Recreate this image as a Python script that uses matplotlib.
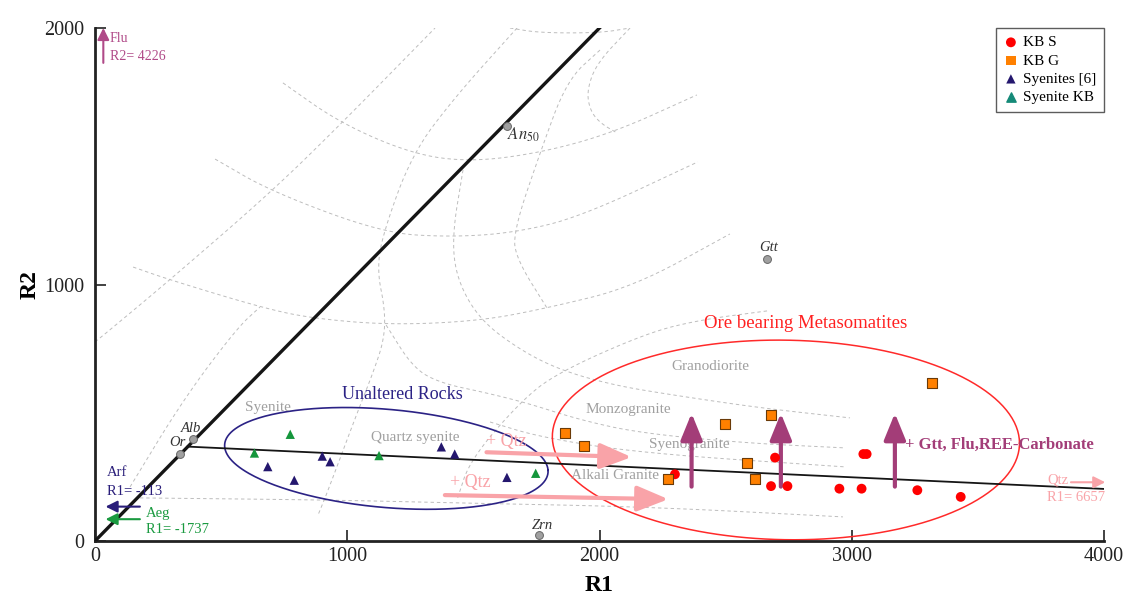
import numpy as np
import matplotlib.pyplot as plt

plt.rcParams['font.family'] = ['Liberation Serif', 'DejaVu Serif']
plt.rcParams['mathtext.fontset'] = 'stix'

# samples (R1, R2)
kbs_r1 = [2299, 2696, 2680, 2745, 2951, 3039, 3046, 3059, 3260, 3432]
kbs_r2 = [260, 325, 214, 214, 204, 204, 339, 339, 198, 172]
kbg_r1 = [1862, 1940, 2273, 2496, 2583, 2616, 2680, 3317]
kbg_r2 = [420, 372, 242, 457, 305, 242, 491, 615]
syen6_r1 = [685, 790, 901, 932, 1373, 1426, 1633]
syen6_r2 = [290, 237, 331, 309, 367, 339, 248]
syenkb_r1 = [632, 774, 1126, 1747]
syenkb_r2 = [343, 416, 333, 264]

# mineral end members
min_names = ['Or', 'Alb', 'An50', 'Gtt', 'Zrn']
min_r1 = [337, 388, 1633, 2664, 1760]
min_r2 = [339, 398, 1618, 1100, 23]

# De la Roche grid (grey dashed)
gA = [(0, 776), (59, 823), (297, 1018), (700, 1362), (978, 1629), (1348, 2000)]
gB = [(745, 1786), (971, 1630), (1257, 1509), (1487, 1478), (1764, 1513), (2053, 1591), (2386, 1739)]
gC = [(476, 1489), (702, 1361), (1142, 1201), (1407, 1185), (1657, 1201), (1923, 1263), (2390, 1478)]
gD = [(151, 1068), (297, 1018), (654, 912), (852, 869), (1169, 842), (1526, 858), (1792, 908), (2133, 990), (2517, 1197)]
gF = [(2664, 897), (2398, 862), (2188, 811), (1831, 655), (1685, 542), (1487, 316), (1435, 160)]
gG = [(1673, 2000), (1427, 1731), (1257, 1509), (1142, 1201), (1118, 1057), (1150, 901), (1146, 784), (1102, 655), (1039, 499), (920, 187), (884, 101)]
gH1 = [(1459, 1447), (1415, 1185), (1435, 1018), (1526, 862), (1685, 745), (1843, 667), (2053, 608), (2291, 569), (2636, 519), (2993, 480)]
gH2 = [(1154, 842), (1261, 675), (1368, 616), (1554, 577), (1712, 538), (1923, 472), (2160, 421), (2577, 382), (2973, 363)]
gH3 = [(1566, 464), (1764, 405), (2160, 343), (2973, 289)]
gH4 = [(178, 168), (932, 160), (1459, 148), (2200, 133), (2965, 94)]
gI = [(139, 211), (349, 550), (563, 830), (654, 912)]
gK = [(1645, 2000), (1764, 1981), (2002, 1981), (2121, 2000)]
gL = [(2121, 2000), (1990, 1864), (1950, 1758), (1962, 1680), (2002, 1630), (2069, 1591)]
gM = [(2002, 1914), (1871, 1797), (1764, 1513), (1657, 1201), (1673, 1096), (1792, 908)]
grid_lines = [gA, gB, gC, gD, gF, gG, gH1, gH2, gH3, gH4, gI, gK, gL, gM]

rock_names = ['Syenite', 'Quartz syenite', 'Granodiorite', 'Monzogranite', 'Syenogranite', 'Alkali Granite']
rock_r1 = [684, 1269, 2438, 2114, 2356, 2061]
rock_r2 = [519, 404, 680, 511, 377, 257]


def smooth(pts, n=3):
    p = np.array(pts, dtype=float)
    for _ in range(n):
        q = 0.75 * p[:-1] + 0.25 * p[1:]
        r = 0.25 * p[:-1] + 0.75 * p[1:]
        new = np.empty((2 * len(q), 2))
        new[0::2] = q
        new[1::2] = r
        p = np.vstack([p[:1], new, p[-1:]])
    return p


def ellipse(c, u, v):
    t = np.linspace(0, 2 * np.pi, 300)
    x = c[0] + u[0] * np.cos(t) + v[0] * np.sin(t)
    y = c[1] + u[1] * np.cos(t) + v[1] * np.sin(t)
    return x, y


def arrow(p0, p1, color, lw, hl, hw, ms):
    ax.annotate('', xy=p1, xytext=p0, annotation_clip=False,
                arrowprops=dict(arrowstyle='-|>,head_length=%s,head_width=%s' % (hl, hw),
                                lw=lw, color=color, mutation_scale=ms, shrinkA=0, shrinkB=0))


fig = plt.figure(figsize=(11.31, 5.97), dpi=100)
ax = fig.add_axes([95 / 1131, 56 / 597, 1009 / 1131, 513 / 597])

for g in grid_lines:
    s = smooth(g)
    ax.plot(s[:, 0], s[:, 1], ls=(0, (3.5, 3)), color='#bdbdbd', lw=0.7, zorder=1)

# 1:1 line and trend towards Qtz
ax.plot([0, 2000], [0, 2000], color='#151515', lw=2.4, zorder=3)
ax.plot([367, 4000], [368, 203], color='#151515', lw=1.3, zorder=3)

# ellipses
ex, ey = ellipse((1155, 322), (641, -46), (-14, 193))
ax.plot(ex, ey, color='#2b2285', lw=1.2, zorder=2)
ex, ey = ellipse((2739, 394), (926, -13), (0, 389))
ax.plot(ex, ey, color='#ff2a2a', lw=1.1, zorder=2)

for name, x, y in zip(rock_names, rock_r1, rock_r2):
    ax.text(x, y, name, color='#a0a0a0', fontsize=11, ha='center', va='center', zorder=2)

ax.text(1218, 573, 'Unaltered Rocks', color='#2b2285', fontsize=13, ha='center', va='center')
ax.text(2817, 849, 'Ore bearing Metasomatites', color='#ff2020', fontsize=13.5, ha='center', va='center')

# arrows
pink = '#f9a3a8'
purple = '#a33d78'
arrow((1552, 346), (2127, 327), pink, 3, 1.6, 0.65, 12)
arrow((1387, 179), (2273, 163), pink, 3, 1.6, 0.65, 12)
ax.text(1552, 387, '+ Qtz', color=pink, fontsize=13, ha='left', va='center')
ax.text(1407, 229, '+ Qtz', color=pink, fontsize=13, ha='left', va='center')

for x in [2365, 2719, 3171]:
    arrow((x, 212), (x, 498), purple, 3, 1.35, 0.55, 12)
ax.text(3211, 374, '+ Gtt, Flu,REE-Carbonate', color=purple, fontsize=12, fontweight='bold', ha='left', va='center')

# off-scale end members
arrow((33, 1864), (33, 2000), '#b04a88', 1.5, 0.7, 0.35, 10)
ax.text(59, 1961, 'Flu', color='#b04a88', fontsize=10, va='center')
ax.text(59, 1887, 'R2= 4226', color='#b04a88', fontsize=10, va='center')
arrow((178, 134), (42, 134), '#2a1e7a', 1.5, 0.7, 0.35, 10)
ax.text(46, 266, 'Arf', color='#2a1e7a', fontsize=10.5, va='center')
ax.text(46, 194, 'R1= -113', color='#2a1e7a', fontsize=10.5, va='center')
arrow((178, 85), (42, 85), '#1a9a40', 1.5, 0.7, 0.35, 10)
ax.text(202, 108, 'Aeg', color='#1a9a40', fontsize=10.5, va='center')
ax.text(202, 43, 'R1= -1737', color='#1a9a40', fontsize=10.5, va='center')
arrow((3869, 229), (4005, 229), pink, 1.5, 0.7, 0.35, 10)
ax.text(3775, 238, 'Qtz', color=pink, fontsize=10.5, va='center')
ax.text(3775, 168, 'R1= 6657', color=pink, fontsize=10.5, va='center')

# end members
ax.scatter(min_r1, min_r2, s=32, color='#a0a0a0', edgecolor='#666666', lw=0.7, zorder=5)
ax.text(325, 383, 'Or', style='italic', fontsize=10.5, color='#333333', ha='center', va='center')
ax.text(382, 437, 'Alb', style='italic', fontsize=10.5, color='#333333', ha='center', va='center')
ax.text(1633, 1583, r'$\mathit{An}_{50}$', fontsize=12, color='#333333', ha='left', va='center')
ax.text(2672, 1146, 'Gtt', style='italic', fontsize=10.5, color='#333333', ha='center', va='center')
ax.text(1772, 62, 'Zrn', style='italic', fontsize=10.5, color='#333333', ha='center', va='center')

# samples
ax.scatter(kbs_r1, kbs_r2, s=50, marker='o', color='#ff0000', edgecolor='none', zorder=6, label='KB S')
ax.scatter(kbg_r1, kbg_r2, s=45, marker='s', color='#ff8000', edgecolor='#6a3a08', lw=0.8, zorder=6, label='KB G')
ax.scatter(syen6_r1, syen6_r2, s=45, marker='^', color='#24176e', edgecolor='none', zorder=6, label='Syenites [6]')
ax.scatter(syenkb_r1, syenkb_r2, s=45, marker='^', color='#15963c', edgecolor='none', zorder=6, label='Syenite KB')

h, l = ax.get_legend_handles_labels()
leg = ax.legend(h, l, loc='upper right', borderaxespad=0, fontsize=11, frameon=True, fancybox=False,
                edgecolor='#333333', handletextpad=0.3, labelspacing=0.3, borderpad=0.5, handlelength=1.0)
leg.legend_handles[1].set_edgecolor('none')
leg.legend_handles[3].set_color('#158a78')
leg.get_frame().set_linewidth(1)

ax.set_xlim(0, 4000)
ax.set_ylim(0, 2000)
ax.set_xticks([0, 1000, 2000, 3000, 4000])
ax.set_yticks([0, 1000, 2000])
ax.tick_params(direction='in', length=8, width=1.2, labelsize=14.5, colors='#222222', pad=4)
ax.tick_params(axis='y', pad=8)
for sp in ['top', 'right']:
    ax.spines[sp].set_visible(False)
for sp in ['left', 'bottom']:
    ax.spines[sp].set_linewidth(2)
    ax.spines[sp].set_color('#222222')
ax.set_xlabel('R1', fontsize=17, fontweight='bold', labelpad=7)
ax.set_ylabel('R2', fontsize=17, fontweight='bold', labelpad=2)

fig.savefig('out.png', dpi=100)
